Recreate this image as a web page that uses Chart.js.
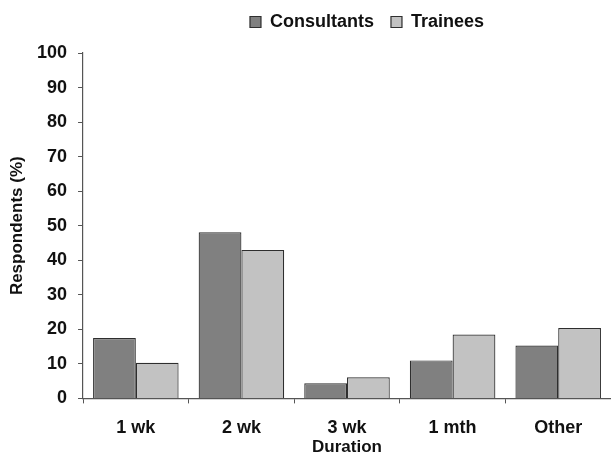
<!DOCTYPE html>
<html>
<head>
<meta charset="utf-8">
<script src="https://cdn.jsdelivr.net/npm/chart.js@4/dist/chart.umd.min.js"></script>
<style>
  html, body { margin: 0; padding: 0; background: #fff; }
  #wrap { width: 611px; height: 456px; position: relative; }
</style>
</head>
<body>
<div id="wrap"><canvas id="c"></canvas></div>
<script>
const categories = ["1 wk", "2 wk", "3 wk", "1 mth", "Other"];
const consultants = [17.5, 48.1, 4.4, 11.0, 15.3];
const trainees = [10.3, 43.0, 6.1, 18.5, 20.4];
const seriesNames = ["Consultants", "Trainees"];
const yTitle = "Respondents (%)";
const xTitle = "Duration";

const FONT = "'Liberation Sans', Arial, Helvetica, sans-serif";
const LEGEND_DX = 57;
const LEGEND_DY = -12;

const shiftLegend = {
  id: 'shiftLegend',
  afterLayout(chart) {
    const lg = chart.legend;
    if (!lg) return;
    lg.left += LEGEND_DX; lg.right += LEGEND_DX;
    lg.top += LEGEND_DY; lg.bottom += LEGEND_DY;
  }
};

new Chart(document.getElementById('c'), {
  type: 'bar',
  data: {
    labels: categories,
    datasets: [
      { label: seriesNames[0], data: consultants, backgroundColor: '#808080', borderColor: '#2e2e2e', borderWidth: 1.2 },
      { label: seriesNames[1], data: trainees, backgroundColor: '#c2c2c2', borderColor: '#2e2e2e', borderWidth: 1.2 }
    ]
  },
  options: {
    responsive: true,
    maintainAspectRatio: false,
    animation: false,
    devicePixelRatio: 1,
    layout: { padding: { left: 9, right: 0, top: 8, bottom: 0 } },
    datasets: { bar: { categoryPercentage: 0.81, barPercentage: 1.0 } },
    plugins: {
      tooltip: { enabled: false },
      legend: {
        position: 'top',
        align: 'center',
        labels: {
          boxWidth: 11, boxHeight: 11, padding: 17,
          color: '#111',
          font: { family: FONT, size: 18, weight: 'bold' }
        }
      }
    },
    scales: {
      x: {
        offset: true,
        border: { display: true, color: '#555', width: 1.2 },
        grid: { display: true, drawOnChartArea: false, drawTicks: true, tickLength: 5, color: '#555', offset: true },
        ticks: { color: '#111', padding: 14, font: { family: FONT, size: 18, weight: 'bold' } },
        title: { display: true, text: xTitle, color: '#111', padding: { top: -14, bottom: 0 }, font: { family: FONT, size: 17, weight: 'bold', lineHeight: 1 } }
      },
      y: {
        min: 0, max: 100,
        border: { display: true, color: '#555', width: 1.2 },
        grid: { display: true, drawOnChartArea: false, drawTicks: true, tickLength: 5, color: '#555' },
        ticks: { stepSize: 10, color: '#111', padding: 11, font: { family: FONT, size: 18, weight: 'bold' } },
        title: { display: true, text: yTitle, color: '#111', padding: { top: 0, bottom: 0 }, font: { family: FONT, size: 17, weight: 'bold', lineHeight: 1 } }
      }
    }
  },
  plugins: [shiftLegend]
});
</script>
</body>
</html>
